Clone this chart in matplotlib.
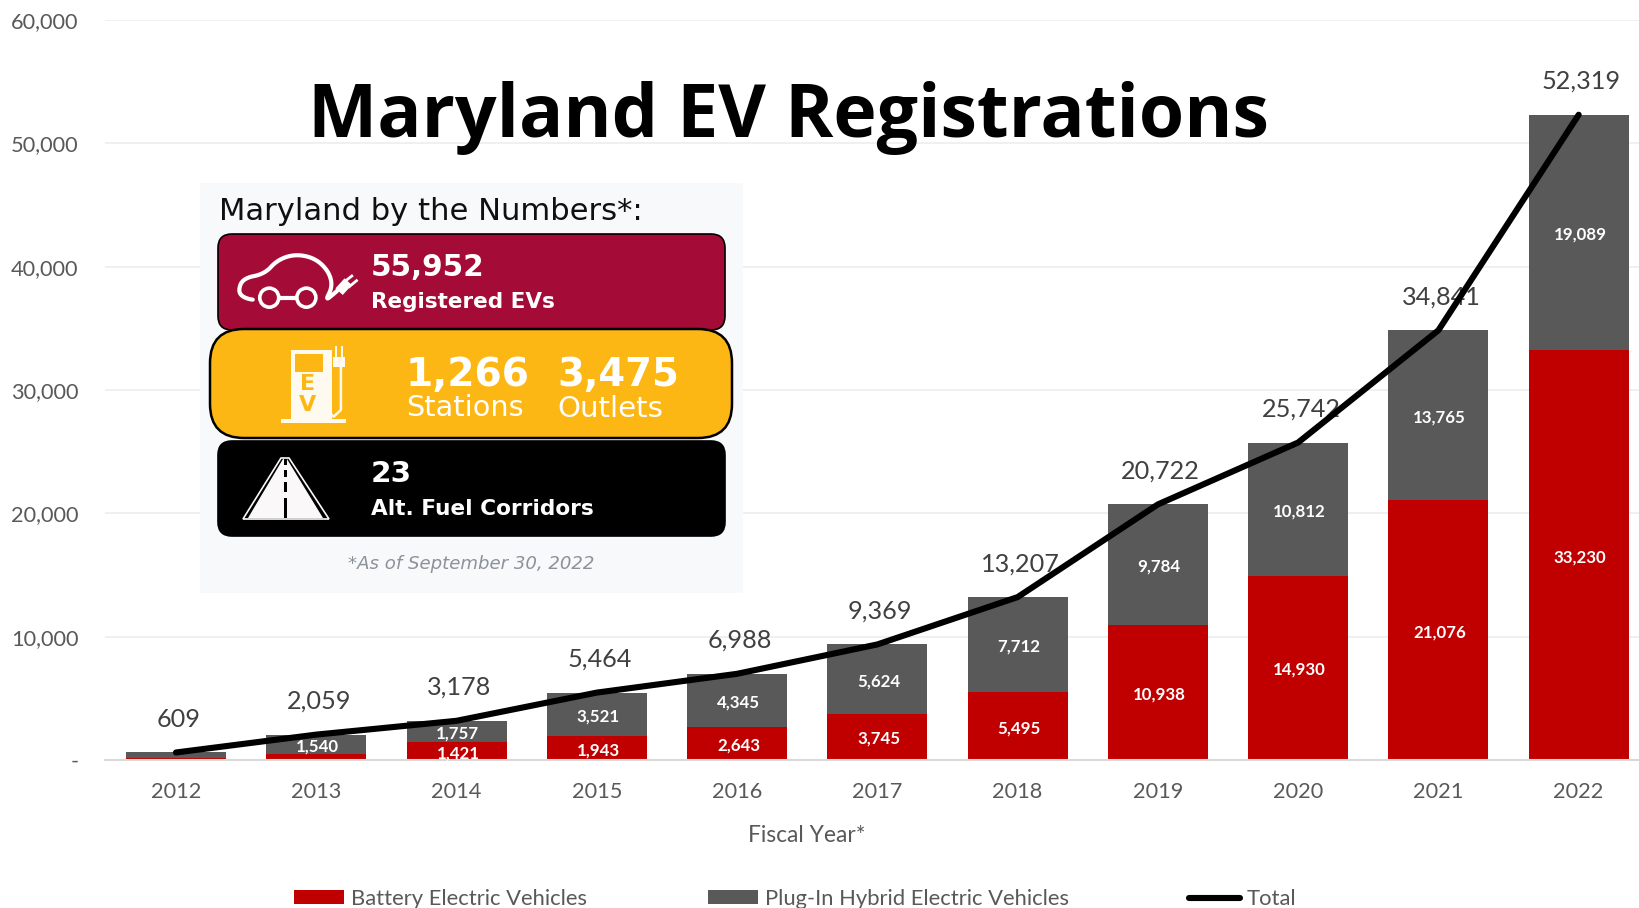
import matplotlib
matplotlib.use("Agg")
import matplotlib.pyplot as plt
import numpy as np
from matplotlib.patches import FancyBboxPatch, Rectangle, Polygon, Circle
from matplotlib.ticker import FuncFormatter

plt.rcParams['font.family'] = ['Lato', 'DejaVu Sans']

years = ['2012','2013','2014','2015','2016','2017','2018','2019','2020','2021','2022']
bev = [150, 519, 1421, 1943, 2643, 3745, 5495, 10938, 14930, 21076, 33230]
phev = [459, 1540, 1757, 3521, 4345, 5624, 7712, 9784, 10812, 13765, 19089]
total = [609, 2059, 3178, 5464, 6988, 9369, 13207, 20722, 25742, 34841, 52319]
bev_labels = [None, None, '1,421', '1,943', '2,643', '3,745', '5,495', '10,938', '14,930', '21,076', '33,230']
phev_labels = [None, '1,540', '1,757', '3,521', '4,345', '5,624', '7,712', '9,784', '10,812', '13,765', '19,089']
total_labels = ['609','2,059','3,178','5,464','6,988','9,369','13,207','20,722','25,742','34,841','52,319']

W, H = 1639, 908
RED, GREY, TXT = '#c00000', '#595959', '#595959'
fig = plt.figure(figsize=(W/100, H/100), dpi=100, facecolor='white')
ax = fig.add_axes([105/W, 1-760/H, 1-105/W, (760-20)/H])
x = np.arange(len(years))
ax.set_xlim(-0.506, 10.43)
ax.set_ylim(0, 60000)
ax.set_axisbelow(True)
ax.grid(axis='y', color='#efefef', lw=1.3)
for s in ['top','right','left']:
    ax.spines[s].set_visible(False)
ax.spines['bottom'].set_color('#d9d9d9')
ax.spines['bottom'].set_linewidth(1.5)
b1 = ax.bar(x, bev, 0.713, color=RED, label='Battery Electric Vehicles', zorder=2)
b2 = ax.bar(x, phev, 0.713, bottom=bev, color=GREY, label='Plug-In Hybrid Electric Vehicles', zorder=2)
ln, = ax.plot(x, total, color='black', lw=4.4, label='Total', zorder=6, solid_capstyle='round', solid_joinstyle='round')

seg = dict(xytext=(1, -1.5), textcoords='offset points', ha='center', va='center', color='white',
           fontsize=12.2, fontweight='bold', zorder=3)
for i in x:
    if bev_labels[i]:
        ax.annotate(bev_labels[i], (i, bev[i]/2), **seg)
    if phev_labels[i]:
        ax.annotate(phev_labels[i], (i, bev[i]+phev[i]/2), **seg)
    ax.annotate(total_labels[i], (i, total[i]), xytext=(2, 24), textcoords='offset points',
                ha='center', va='center', color='#404040', fontsize=18.2, zorder=4)

ax.set_xticks(x)
ax.set_xticklabels(years)
ax.set_yticks(np.arange(0, 60001, 10000))
ax.yaxis.set_major_formatter(FuncFormatter(lambda v, p: '-' if v == 0 else f'{int(v):,}'))
ax.tick_params(axis='both', length=0, labelsize=15.7, labelcolor=TXT)
ax.tick_params(axis='x', pad=16)
ax.tick_params(axis='y', pad=19)
ax.set_xlabel('Fiscal Year*', fontsize=16.4, color=TXT)
ax.xaxis.set_label_coords((807-105)/(W-105), -(836-760)/740, transform=ax.transAxes)
ax.xaxis.label.set_va('center')

fig.legend(handles=[b1, b2, ln], loc='center', bbox_to_anchor=(795/W, 1-899/H), ncols=3, frameon=False,
           fontsize=15.8, labelcolor=TXT, handlelength=2.3, handleheight=0.6, handletextpad=0.3,
           columnspacing=5.5, borderpad=0, borderaxespad=0)

# pixel-space overlay for the title and the inset panel
ov = fig.add_axes([0, 0, 1, 1], facecolor='none', zorder=10)
ov.set_xlim(0, W); ov.set_ylim(H, 0); ov.axis('off')
renderer = fig.canvas.get_renderer()

def fit(s, x0, x1, yc, size, color='white', **kw):
    t = ov.text(x0, yc, s, ha='left', va='center', color=color, fontsize=size, **kw)
    w = t.get_window_extent(renderer).width
    t.set_fontsize(size * (x1 - x0) / w)
    return t

def box(x0, y0, x1, y1, r, fc, ec='black', lw=1.2):
    ov.add_patch(FancyBboxPatch((x0+r, y0+r), x1-x0-2*r, y1-y0-2*r, boxstyle=f'round,pad={r},rounding_size={r}',
                                fc=fc, ec=ec, lw=lw))

def smooth(pts, n=3):
    p = np.array(pts, float)
    for _ in range(n):
        q = np.empty((2*len(p)-2, 2))
        q[0::2] = 0.75*p[:-1] + 0.25*p[1:]
        q[1::2] = 0.25*p[:-1] + 0.75*p[1:]
        p = q
    return p[:, 0], p[:, 1]

fit('Maryland EV Registrations', 308, 1270, 118, 50, 'black', fontweight='bold', family='Open Sans')

ov.add_patch(Rectangle((200, 183), 543, 410, fc='#f7f9fb', ec='none'))
PF = 'DejaVu Sans'
fit('Maryland by the Numbers*:', 219, 643, 211, 20, '#101010', family=PF)
box(218, 234, 725, 330, 14, '#a50b37')
box(218, 441, 725, 536, 14, '#000000')
box(210, 329, 732, 438, 34, '#fdb714', lw=1.8)

fit('55,952', 371, 485, 267, 26, family=PF, fontweight='bold')
fit('Registered EVs', 371, 555, 302, 17, family=PF, fontweight='bold')
fit('1,266', 406, 530, 375, 28, family=PF, fontweight='bold')
fit('Stations', 406, 523, 408, 18, family=PF)
fit('3,475', 557, 679, 375, 28, family=PF, fontweight='bold')
fit('Outlets', 557, 663, 409, 18, family=PF)
fit('23', 371, 412, 474, 26, family=PF, fontweight='bold')
fit('Alt. Fuel Corridors', 371, 593, 509, 17, family=PF, fontweight='bold')
fit('*As of September 30, 2022', 348, 595, 564, 13, '#8c9299', family=PF, style='oblique')

# car icon
def Z(pts):
    return [(190 + a/2.75, 170 + b/3) for a, b in pts]
body = Z([(190,392),(150,385),(132,365),(145,325),(205,312),(240,270),(290,252),(345,265),(382,305),(392,350),(372,392),(395,372),(412,355)])
ov.plot(*smooth(body), color='white', lw=3, solid_joinstyle='round', solid_capstyle='round')
ov.plot(*zip(*Z([(245,385),(292,385)])), color='white', lw=3)
for c in Z([(218,383),(320,383)]):
    ov.add_patch(Circle(c, 9.5, fc='#a50b37', ec='white', lw=2.6))
ov.add_patch(Polygon(Z([(400,355),(425,325),(445,345),(420,375)]), fc='white', ec='none'))
ov.plot(*zip(*Z([(425,335),(445,318)])), color='white', lw=2)
ov.plot(*zip(*Z([(438,350),(458,332)])), color='white', lw=2)

# charging pump icon
Y = '#fdb714'
IC = '#fffaf0'
ov.add_patch(Rectangle((291, 350), 41, 72, fc=IC, ec='none'))
ov.add_patch(Rectangle((281, 419), 65, 4, fc=IC, ec='none'))
ov.add_patch(Rectangle((295, 354), 28, 18, fc=Y, ec='none'))
ov.text(308, 384, 'E', color=Y, fontsize=16, fontweight='bold', ha='center', va='center', family=PF)
ov.text(308, 405, 'V', color=Y, fontsize=16, fontweight='bold', ha='center', va='center', family=PF)
ov.plot(*zip(*Z([(375,640),(375,720),(395,740),(415,720),(415,570)])), color=IC, lw=1.8)
ov.add_patch(Rectangle((333, 357), 12, 10, fc=IC, ec='none'))
ov.plot([336, 336], [347, 357], color=IC, lw=1.4)
ov.plot([342, 342], [347, 357], color=IC, lw=1.4)

# road icon
ov.add_patch(Polygon([(243, 519), (281, 458), (289, 458), (329, 519)], fc='none', ec='#fafafa', lw=1.2))
ov.add_patch(Polygon([(248, 518), (283, 459), (287, 459), (323, 518)], fc='#faf8f8', ec='none'))
for y0, y1 in [(459,465),(470,477),(482,492),(498,518)]:
    ov.add_patch(Rectangle((284, y0), 3, y1-y0, fc='black', ec='none'))

fig.savefig('out.png', dpi=100)
